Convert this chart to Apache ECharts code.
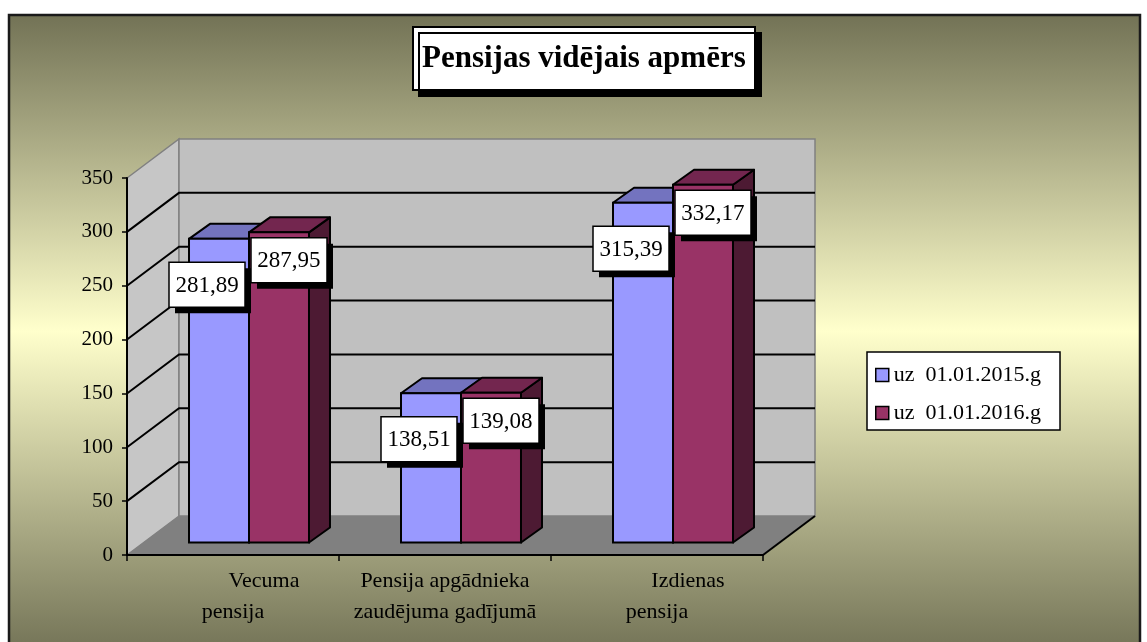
<!DOCTYPE html>
<html>
<head>
<meta charset="utf-8">
<script src="https://cdn.jsdelivr.net/npm/echarts@6/dist/echarts.min.js"></script>
<style>
  html, body { margin: 0; padding: 0; background: #fff; }
  #main { width: 1147px; height: 642px; }
</style>
</head>
<body>
<div id="main"></div>
<script>
// dati
const categories = ['Vecuma\npensija', 'Pensija apgādnieka\nzaudējuma gadījumā', 'Izdienas\npensija'];
const seriesNames = ['uz  01.01.2015.g', 'uz  01.01.2016.g'];
const values2015 = [281.89, 138.51, 315.39];
const values2016 = [287.95, 139.08, 332.17];
const yTicks = [0, 50, 100, 150, 200, 250, 300, 350];

const FONT = '"Liberation Serif", "Times New Roman", serif';

// 3D izskats: grīdas dziļums un stabiņu dziļums (pikseļos)
const DX = 52, DY = -39;
const BDX = 16, BDY = -12.5;
const DDX = 21, DDY = -15;

const colors = [
  { front: '#9999ff', top: '#7373bf', side: '#5c5c99' },
  { front: '#993366', top: '#73264f', side: '#4d1a33' }
];
const labelOffset = [[-12, 46], [10, 28]];

const myChart = echarts.init(document.getElementById('main'));

function renderWalls(params, api) {
  const cs = params.coordSys;
  const v = api.value(1);
  const x0 = cs.x, x1 = cs.x + cs.width;
  const y = api.coord([0, v])[1];
  const children = [];
  if (v === 0) {
    const yTop = api.coord([0, 350])[1];
    children.push({
      type: 'polygon', z2: 0,
      shape: { points: [[x0, y], [x0, yTop], [x0 + DX, yTop + DY], [x0 + DX, y + DY]] },
      style: { fill: '#c6c6c6', stroke: '#808080', lineWidth: 1.5 }
    });
    children.push({
      type: 'rect', z2: 0,
      shape: { x: x0 + DX, y: yTop + DY, width: x1 - x0, height: y - yTop },
      style: { fill: '#c0c0c0', stroke: '#808080', lineWidth: 1.5 }
    });
    children.push({
      type: 'polygon', z2: 1,
      shape: { points: [[x0, y], [x1, y], [x1 + DX, y + DY], [x0 + DX, y + DY]] },
      style: { fill: '#808080', stroke: null }
    });
    children.push({
      type: 'line', z2: 2,
      shape: { x1: x1, y1: y, x2: x1 + DX, y2: y + DY },
      style: { stroke: '#000', lineWidth: 2 }
    });
  } else if (v < 350) {
    children.push({
      type: 'polyline', z2: 2,
      shape: { points: [[x0, y], [x0 + DX, y + DY], [x1 + DX, y + DY]] },
      style: { stroke: '#000', lineWidth: 2, fill: null }
    });
  }
  return { type: 'group', children: children };
}

function renderBars(params, api) {
  const si = params.seriesIndex - 1;
  const c = colors[si];
  const cat = api.value(0);
  const v = api.value(1);
  const base = api.coord([cat, 0]);
  const top = api.coord([cat, v]);
  const barW = api.size([1, 0])[0] * 0.283;
  const x = base[0] + BDX - (si === 0 ? barW : 0);
  const y0 = base[1] + BDY;
  const y1 = top[1] + BDY;
  const lw = 2;
  const lx = x + barW / 2 + labelOffset[si][0];
  const ly = y1 + labelOffset[si][1];
  const bw = 76, bh = 45;
  return {
    type: 'group',
    children: [
      {
        type: 'polygon', z2: 1,
        shape: { points: [[x + barW, y1], [x + barW + DDX, y1 + DDY], [x + barW + DDX, y0 + DDY], [x + barW, y0]] },
        style: { fill: c.side, stroke: '#000', lineWidth: lw, lineJoin: 'round' }
      },
      {
        type: 'polygon', z2: 1,
        shape: { points: [[x, y1], [x + barW, y1], [x + barW + DDX, y1 + DDY], [x + DDX, y1 + DDY]] },
        style: { fill: c.top, stroke: '#000', lineWidth: lw, lineJoin: 'round' }
      },
      {
        type: 'rect', z2: 1,
        shape: { x: x, y: y1, width: barW, height: y0 - y1 },
        style: { fill: c.front, stroke: '#000', lineWidth: lw }
      },
      {
        type: 'rect', z2: 10 + si * 3,
        shape: { x: lx - bw / 2 + 6, y: ly - bh / 2 + 6, width: bw, height: bh },
        style: { fill: '#000' }
      },
      {
        type: 'rect', z2: 11 + si * 3,
        shape: { x: lx - bw / 2, y: ly - bh / 2, width: bw, height: bh },
        style: { fill: '#fff', stroke: '#000', lineWidth: 1.5 }
      },
      {
        type: 'text', z2: 12 + si * 3,
        style: {
          text: v.toFixed(2).replace('.', ','),
          x: lx, y: ly + 1,
          align: 'center', verticalAlign: 'middle',
          font: '23px ' + FONT, fill: '#000'
        }
      }
    ]
  };
}

myChart.setOption({
  animation: false,
  graphic: [
    {
      type: 'rect', z: -10,
      shape: { x: 9, y: 15, width: 1131, height: 645 },
      style: {
        fill: new echarts.graphic.LinearGradient(0, 0, 0, 1, [
          { offset: 0, color: '#727255' },
          { offset: 0.49, color: '#ffffcc' },
          { offset: 1, color: '#6f6f53' }
        ]),
        stroke: '#1a1a1a', lineWidth: 2.5
      }
    }
  ],
  title: {
    text: 'Pensijas vidējais apmērs',
    left: 413,
    top: 27,
    padding: [14, 9, 14, 9],
    backgroundColor: '#fff',
    borderColor: '#000',
    borderWidth: 2,
    shadowColor: '#000',
    shadowBlur: 0,
    shadowOffsetX: 6,
    shadowOffsetY: 6,
    textStyle: {
      fontFamily: FONT,
      fontWeight: 'bold',
      fontSize: 31,
      lineHeight: 35,
      color: '#000'
    }
  },
  legend: {
    data: seriesNames,
    orient: 'vertical',
    left: 867,
    top: 352,
    padding: [12, 19, 6, 8],
    itemGap: 16,
    itemWidth: 13,
    itemHeight: 13,
    icon: 'rect',
    backgroundColor: '#fff',
    borderColor: '#000',
    borderWidth: 1.5,
    itemStyle: { borderColor: '#000', borderWidth: 1.5 },
    textStyle: { fontFamily: FONT, fontSize: 22, lineHeight: 21, color: '#000' }
  },
  grid: {
    left: 127,
    right: 384,
    top: 178,
    bottom: 87,
    containLabel: false,
    outerBoundsMode: 'none'
  },
  xAxis: {
    type: 'category',
    data: categories,
    z: 5,
    axisLine: { show: true, lineStyle: { color: '#000', width: 2 } },
    axisTick: { show: true, length: 6, lineStyle: { color: '#000', width: 1.5 } },
    axisLabel: {
      margin: 11,
      interval: 0,
      formatter: function (val) {
        const parts = val.split('\n');
        const first = parts[0].length < 10 ? '{i|' + parts[0] + '}' : '{n|' + parts[0] + '}';
        return first + '\n{n|' + parts[1] + '}';
      },
      rich: {
        n: { fontFamily: FONT, fontSize: 22, lineHeight: 31, color: '#000' },
        i: { fontFamily: FONT, fontSize: 22, lineHeight: 31, color: '#000', padding: [0, 0, 0, 62] }
      }
    }
  },
  yAxis: {
    type: 'value',
    min: 0,
    max: 350,
    interval: 50,
    z: 5,
    axisLine: { show: true, lineStyle: { color: '#000', width: 2 } },
    axisTick: { show: true, length: 5, lineStyle: { color: '#000', width: 1.5 } },
    splitLine: { show: false },
    axisLabel: { margin: 14, fontFamily: FONT, fontSize: 21, color: '#000' }
  },
  series: [
    {
      type: 'custom',
      name: 'walls',
      z: 1,
      silent: true,
      renderItem: renderWalls,
      encode: { x: 0, y: 1 },
      data: yTicks.map(function (t) { return [0, t]; })
    },
    {
      type: 'custom',
      name: seriesNames[0],
      z: 2,
      itemStyle: { color: colors[0].front },
      renderItem: renderBars,
      encode: { x: 0, y: 1 },
      data: values2015.map(function (v, i) { return [i, v]; })
    },
    {
      type: 'custom',
      name: seriesNames[1],
      z: 2,
      itemStyle: { color: colors[1].front },
      renderItem: renderBars,
      encode: { x: 0, y: 1 },
      data: values2016.map(function (v, i) { return [i, v]; })
    }
  ]
});
</script>
</body>
</html>
